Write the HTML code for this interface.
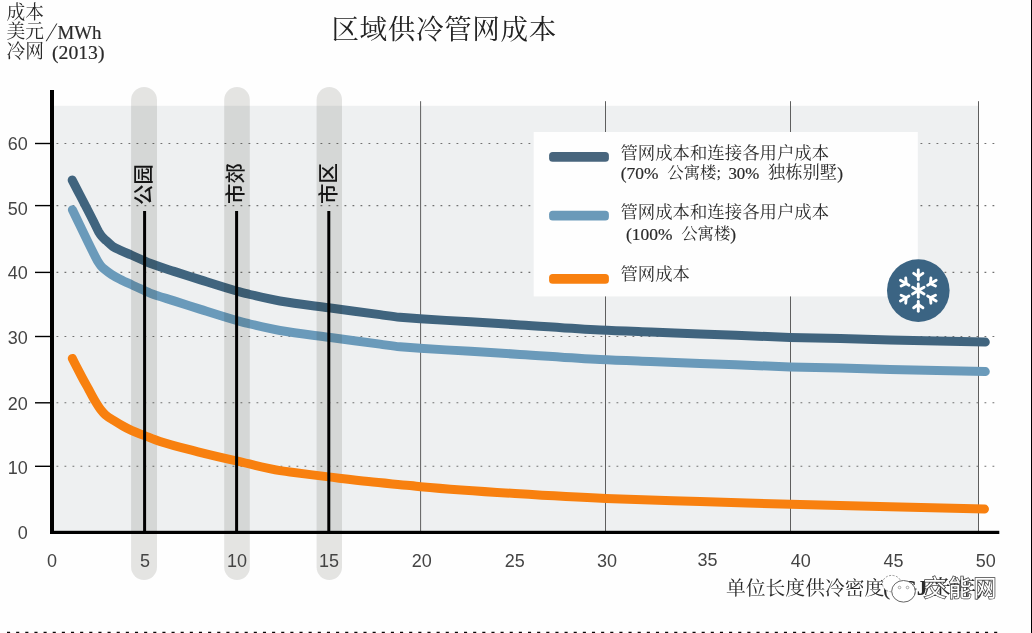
<!DOCTYPE html>
<html lang="zh">
<head>
<meta charset="utf-8">
<title>区域供冷管网成本</title>
<style>
html,body{margin:0;padding:0;background:#fefefe;}
body{width:1032px;height:633px;overflow:hidden;position:relative;}
svg{position:absolute;left:0;top:0;display:block;}
.serif{font-family:"Liberation Serif","Noto Serif CJK SC",serif;}
.sans{font-family:"Liberation Sans","Noto Sans CJK SC",sans-serif;}
.num{font-family:"Liberation Sans","Noto Sans CJK SC",sans-serif;font-size:18px;fill:#444;}
</style>
</head>
<body>
<svg width="1032" height="633" viewBox="0 0 1032 633">
  <rect x="0" y="0" width="1032" height="633" fill="#fefefe"/>

  <!-- plot background -->
  <rect x="54" y="105.8" width="924.2" height="426" fill="#eef0f1"/>

  <!-- vertical grid lines -->
  <g stroke="#5e5e5e" stroke-width="1">
    <line x1="420.6" y1="101.2" x2="420.6" y2="531"/>
    <line x1="605.5" y1="101.2" x2="605.5" y2="531"/>
    <line x1="790.5" y1="101.2" x2="790.5" y2="531"/>
    <line x1="978.5" y1="101.2" x2="978.5" y2="531"/>
  </g>

  <!-- horizontal dotted grid lines -->
  <g stroke="#707070" stroke-width="1.1" stroke-dasharray="1.8 6.2">
    <line x1="56.5" y1="143.5" x2="997" y2="143.5"/>
    <line x1="56.5" y1="205.6" x2="997" y2="205.6"/>
    <line x1="56.5" y1="272.4" x2="997" y2="272.4"/>
    <line x1="56.5" y1="336.5" x2="997" y2="336.5"/>
    <line x1="56.5" y1="402.8" x2="997" y2="402.8"/>
    <line x1="56.5" y1="466.3" x2="997" y2="466.3"/>
  </g>

  <!-- legend box -->
  <rect x="533.7" y="132" width="384.1" height="164.4" fill="#fefefe"/>

  <!-- curves -->
  <g fill="none" stroke-width="9" stroke-linecap="round" stroke-linejoin="round">
    <path stroke="#40647e" d="M72.2,180.1 C79.4,194.1 86.6,207.7 93.8,222.0 C95.3,225.0 96.9,228.6 98.4,231.3 C99.5,233.1 100.5,234.9 101.6,236.2 C103.2,238.1 104.8,239.3 106.4,240.8 C108.5,242.8 110.7,245.0 112.8,246.4 C115.4,248.1 117.9,249.1 120.5,250.3 C124.1,252.0 127.6,253.4 131.2,255.0 C135.6,257.0 140.1,259.0 144.5,260.9 C146.3,261.7 148.2,262.6 150.0,263.3 C158.0,266.4 166.0,268.8 174.0,271.4 C182.9,274.3 191.7,277.1 200.6,279.9 C212.6,283.7 224.6,287.6 236.6,291.0 C241.1,292.2 245.5,293.4 250.0,294.5 C260.0,296.9 270.0,299.3 280.0,301.0 C296.2,303.8 312.5,305.6 328.7,307.8 C345.8,310.1 362.9,312.3 380.0,314.6 C386.7,315.5 393.3,316.7 400.0,317.3 C406.7,317.9 413.3,318.4 420.0,318.8 C436.9,319.9 453.7,320.8 470.6,321.8 C487.1,322.8 503.5,323.8 520.0,324.9 C546.7,326.6 573.3,328.9 600.0,330.1 C616.9,330.9 633.7,331.4 650.6,332.0 C667.1,332.6 683.5,333.2 700.0,333.9 C730.0,335.0 760.0,336.5 790.0,337.4 C806.9,337.8 823.7,338.2 840.6,338.6 C857.1,339.0 873.5,339.5 890.0,339.9 C921.8,340.6 953.5,341.3 985.3,342.1"/>
    <path stroke="#6a9aba" d="M72.4,209.7 C79.7,224.7 87.0,240.5 94.3,254.7 C95.6,257.3 97.0,260.1 98.3,262.2 C99.2,263.6 100.1,265.0 101.0,266.0 C102.2,267.3 103.3,268.3 104.5,269.3 C106.9,271.3 109.3,273.1 111.7,274.6 C114.5,276.4 117.2,277.8 120.0,279.2 C123.7,281.1 127.5,282.8 131.2,284.5 C135.6,286.6 140.1,288.6 144.5,290.6 C146.3,291.4 148.2,292.4 150.0,293.1 C158.0,296.2 166.0,298.3 174.0,300.9 C182.9,303.8 191.7,306.6 200.6,309.4 C212.6,313.2 224.6,317.1 236.6,320.5 C241.1,321.7 245.5,322.9 250.0,324.0 C260.0,326.4 270.0,328.8 280.0,330.5 C296.2,333.3 312.5,335.1 328.7,337.3 C345.8,339.6 362.9,341.8 380.0,344.1 C386.7,345.0 393.3,346.2 400.0,346.8 C406.7,347.4 413.3,347.9 420.0,348.3 C436.9,349.4 453.7,350.3 470.6,351.3 C487.1,352.3 503.5,353.3 520.0,354.4 C546.7,356.1 573.3,358.4 600.0,359.6 C616.9,360.4 633.7,360.9 650.6,361.5 C667.1,362.1 683.5,362.7 700.0,363.4 C730.0,364.5 760.0,366.0 790.0,366.9 C806.9,367.3 823.7,367.7 840.6,368.1 C857.1,368.5 873.5,369.0 890.0,369.4 C921.8,370.1 953.5,370.8 985.3,371.6"/>
  </g>

  <!-- grey context bands -->
  <g fill="#141000" fill-opacity="0.11">
    <rect x="131.1" y="87" width="25.9" height="493" rx="12.95" ry="12.95"/>
    <rect x="224.2" y="87" width="25.6" height="493" rx="12.8" ry="12.8"/>
    <rect x="316.6" y="87" width="25.4" height="493" rx="12.7" ry="12.7"/>
  </g>

  <!-- orange curve sits above the bands -->
  <path fill="none" stroke="#f8800f" stroke-width="9" stroke-linecap="round" stroke-linejoin="round" d="M72.3,358.4 C75.4,364.5 78.6,370.7 81.7,376.6 C84.2,381.4 86.8,385.9 89.3,390.5 C91.0,393.7 92.8,397.1 94.5,400.0 C96.5,403.4 98.6,406.9 100.6,409.5 C102.2,411.6 103.8,413.4 105.4,414.8 C108.1,417.1 110.7,418.6 113.4,420.3 C116.6,422.3 119.7,424.2 122.9,426.0 C125.7,427.6 128.6,429.1 131.4,430.4 C135.8,432.4 140.2,433.9 144.6,435.6 C149.7,437.6 154.9,439.8 160.0,441.5 C172.6,445.6 185.3,448.6 197.9,451.8 C210.7,455.0 223.6,458.0 236.4,460.9 C250.9,464.2 265.5,468.2 280.0,470.6 C283.3,471.1 286.7,471.6 290.0,472.0 C302.9,473.7 315.7,475.3 328.6,476.9 C341.9,478.5 355.1,480.2 368.4,481.6 C382.3,483.1 396.1,484.2 410.0,485.6 C413.5,486.0 417.0,486.4 420.5,486.7 C452.0,489.5 483.5,491.6 515.0,493.5 C545.3,495.4 575.5,497.2 605.8,498.4 C637.2,499.7 668.6,500.5 700.0,501.5 C730.2,502.5 760.3,503.5 790.5,504.3 C855.2,506.1 919.8,507.4 984.5,509.0"/>

  <!-- black marker lines -->
  <g stroke="#000" stroke-width="3">
    <line x1="144.6" y1="211" x2="144.6" y2="531"/>
    <line x1="236.6" y1="211" x2="236.6" y2="531"/>
    <line x1="328.8" y1="211" x2="328.8" y2="531"/>
  </g>

  <!-- rotated band labels -->
  <g class="sans" font-size="20.4" font-weight="500" fill="#151515" text-anchor="middle">
    <text transform="translate(151.2,184.6) rotate(-90)">公园</text>
    <text transform="translate(243.4,183.6) rotate(-90)">市郊</text>
    <text transform="translate(335.8,183.6) rotate(-90)">市区</text>
  </g>

  <!-- axes -->
  <rect x="50" y="90" width="4" height="444" fill="#000"/>
  <rect x="50" y="530.8" width="949.3" height="3.2" fill="#000"/>
  <g stroke="#000" stroke-width="1.4">
    <line x1="35" y1="143.5" x2="50" y2="143.5"/>
    <line x1="35" y1="205.6" x2="50" y2="205.6"/>
    <line x1="35" y1="272.4" x2="50" y2="272.4"/>
    <line x1="35" y1="336.5" x2="50" y2="336.5"/>
    <line x1="35" y1="402.8" x2="50" y2="402.8"/>
    <line x1="35" y1="466.3" x2="50" y2="466.3"/>
  </g>

  <!-- y axis numbers -->
  <g class="num" text-anchor="end">
    <text x="27.8" y="150.2">60</text>
    <text x="27.8" y="215">50</text>
    <text x="27.8" y="279.3">40</text>
    <text x="27.8" y="343.6">30</text>
    <text x="27.8" y="410.2">20</text>
    <text x="27.8" y="473.9">10</text>
    <text x="27.8" y="539.3">0</text>
  </g>

  <!-- x axis numbers -->
  <g class="num" text-anchor="middle">
    <text x="52" y="566.8">0</text>
    <text x="145" y="566.8">5</text>
    <text x="237" y="566.8">10</text>
    <text x="329" y="566.8">15</text>
    <text x="421.8" y="566.8">20</text>
    <text x="514.8" y="566.8">25</text>
    <text x="607" y="566.8">30</text>
    <text x="707.5" y="566">35</text>
    <text x="800.7" y="566.8">40</text>
    <text x="893.4" y="566.8">45</text>
    <text x="985.8" y="566.8">50</text>
  </g>

  <!-- legend -->
  <rect x="549.1" y="152" width="59.8" height="9.8" rx="3.6" fill="#48657d"/>
  <rect x="549.1" y="210.8" width="59.8" height="9.8" rx="3.6" fill="#6b9ab9"/>
  <rect x="549.1" y="274" width="59.8" height="9.8" rx="3.6" fill="#f8800f"/>
  <g class="serif" font-size="17.4" fill="#2a2a2a">
    <text x="620.4" y="158.8">管网成本和连接各用户成本</text>
    <text transform="translate(620.8,178.6) scale(1.0,1)" font-size="17.4" stroke="#2a2a2a" stroke-width="0.2" >(70%</text>
    <text x="667.3" y="177.7" font-size="16.4">公寓楼;</text>
    <text transform="translate(728.4,178.6) scale(0.97,1)" font-size="17.4" stroke="#2a2a2a" stroke-width="0.2" >30%</text>
    <text x="768" y="177.9" font-size="17.3">独栋别墅</text>
    <text transform="translate(837.2,178.6) scale(1.0,1)" font-size="17.4" stroke="#2a2a2a" stroke-width="0.2" >)</text>
    <text x="620.4" y="218.2">管网成本和连接各用户成本</text>
    <text transform="translate(626,239.8) scale(1.0,1)" font-size="17.4" stroke="#2a2a2a" stroke-width="0.2" >(100%</text>
    <text x="681.2" y="238.9" font-size="16.4">公寓楼</text>
    <text transform="translate(730.2,239.8) scale(1.0,1)" font-size="17.4" stroke="#2a2a2a" stroke-width="0.2" >)</text>
    <text x="620.4" y="279.9">管网成本</text>
  </g>

  <!-- snowflake badge -->
  <g transform="translate(918.3,290.6)">
    <circle r="31.3" fill="#3b6483"/>
    <g stroke="#fff" stroke-width="2.9" stroke-linecap="round" fill="none">
      <g transform="rotate(0)"><line x1="0" y1="0" x2="0" y2="-6.6"/><line x1="0" y1="-10.8" x2="0" y2="-20.6"/><polyline points="-4.6,-17.2 0,-14 4.6,-17.2"/></g>
      <g transform="rotate(60)"><line x1="0" y1="0" x2="0" y2="-6.6"/><line x1="0" y1="-10.8" x2="0" y2="-20.6"/><polyline points="-4.6,-17.2 0,-14 4.6,-17.2"/></g>
      <g transform="rotate(120)"><line x1="0" y1="0" x2="0" y2="-6.6"/><line x1="0" y1="-10.8" x2="0" y2="-20.6"/><polyline points="-4.6,-17.2 0,-14 4.6,-17.2"/></g>
      <g transform="rotate(180)"><line x1="0" y1="0" x2="0" y2="-6.6"/><line x1="0" y1="-10.8" x2="0" y2="-20.6"/><polyline points="-4.6,-17.2 0,-14 4.6,-17.2"/></g>
      <g transform="rotate(240)"><line x1="0" y1="0" x2="0" y2="-6.6"/><line x1="0" y1="-10.8" x2="0" y2="-20.6"/><polyline points="-4.6,-17.2 0,-14 4.6,-17.2"/></g>
      <g transform="rotate(300)"><line x1="0" y1="0" x2="0" y2="-6.6"/><line x1="0" y1="-10.8" x2="0" y2="-20.6"/><polyline points="-4.6,-17.2 0,-14 4.6,-17.2"/></g>
    </g>
  </g>

  <!-- titles -->
  <text class="serif" x="331.4" y="39.2" font-size="27.6" letter-spacing="0.6" fill="#222">区域供冷管网成本</text>
  <g class="serif" font-size="18.8" fill="#2a2a2a">
    <text x="6.6" y="19.4">成本</text>
    <text x="6.6" y="38.4">美元</text>
    <text transform="translate(45.8,40.6) skewX(-18) scale(1.1,1.35)" font-size="19.6">/</text>
    <text transform="translate(57.5,38.5) scale(0.95,1)" font-size="19.8" stroke="#2a2a2a" stroke-width="0.2" >MWh</text>
    <text x="6.6" y="58">冷网</text>
    <text transform="translate(52.0,58.8) scale(1.02,1)" font-size="19.3" stroke="#2a2a2a" stroke-width="0.2" >(2013)</text>
  </g>
  <text class="serif" x="726" y="594.8" font-size="19.8" fill="#2a2a2a">单位长度供冷密度</text>
  <g class="serif" fill="#2a2a2a"><text transform="translate(883.2,594.6) scale(1.0,1)" font-size="20.5" stroke="#2a2a2a" stroke-width="0.2" >(</text><text transform="translate(901.0,594.6) scale(1.0,1)" font-size="20.5" stroke="#2a2a2a" stroke-width="0.2" font-weight="bold">GJ</text><text transform="translate(925,594.6) scale(1.0,1)" font-size="20" stroke="#2a2a2a" stroke-width="0.2" >/米/年)</text></g>

  <!-- watermark -->
  <g>
    <ellipse cx="891.8" cy="583.6" rx="9.4" ry="8.2" fill="#fff" stroke="#8a8a8a" stroke-width="0.9" stroke-dasharray="2 1.5"/>
    <ellipse cx="903.5" cy="591.3" rx="11.8" ry="10.8" fill="#fff" stroke="#666" stroke-width="1"/>
    <circle cx="899.5" cy="587.5" r="1.3" fill="#fff" stroke="#888" stroke-width="0.7"/>
    <circle cx="907.5" cy="587.5" r="1.3" fill="#fff" stroke="#888" stroke-width="0.7"/>
    <text class="sans" x="923.4" y="595.9" font-size="23" fill="#fff" stroke="#404040" stroke-width="1.5" paint-order="stroke" letter-spacing="2.1">交能网</text>
  </g>

  <!-- bottom dotted rule -->
  <line x1="7" y1="632.5" x2="999" y2="632.5" stroke="#0a0a0a" stroke-width="1.4" stroke-dasharray="3.1 6.04"/>
  <rect x="1031" y="0" width="1" height="633" fill="#000"/>
</svg>
</body>
</html>
